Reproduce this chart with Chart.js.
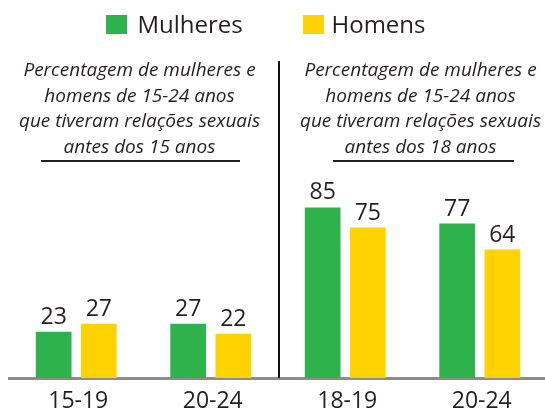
<!DOCTYPE html>
<html>
<head>
<meta charset="utf-8">
<script src="https://cdn.jsdelivr.net/npm/chart.js@4"></script>
<style>
  html, body { margin: 0; padding: 0; background: #fff; overflow: hidden; }
  #wrap { position: relative; width: 548px; height: 409px; }
</style>
</head>
<body>
<div id="wrap"><canvas id="c"></canvas></div>
<script>
const categories = ['15-19', '20-24', '18-19', '20-24'];
const seriesNames = ['Mulheres', 'Homens'];
const mulheres = [23, 27, 85, 77];
const homens = [27, 22, 75, 64];
const seriesColors = ['#2db24c', '#ffd200'];
const subtitleLeft = ['Percentagem de mulheres e', 'homens de 15-24 anos', 'que tiveram relações sexuais', 'antes dos 15 anos'];
const subtitleRight = ['Percentagem de mulheres e', 'homens de 15-24 anos', 'que tiveram relações sexuais', 'antes dos 18 anos'];

const TEXT = '#231f20';

const decor = {
  id: 'decor',
  afterDatasetsDraw(chart) {
    const ctx = chart.ctx;
    const area = chart.chartArea;
    const x = chart.scales.x;
    ctx.save();
    // value labels
    ctx.font = '23px "Open Sans"';
    ctx.fillStyle = TEXT;
    ctx.textAlign = 'center';
    ctx.textBaseline = 'alphabetic';
    chart.data.datasets.forEach((ds, di) => {
      chart.getDatasetMeta(di).data.forEach((bar, i) => {
        ctx.fillText(String(ds.data[i]), bar.x, bar.y - 8);
      });
    });
    // divider between the two panels
    const xd = (x.getPixelForValue(1) + x.getPixelForValue(2)) / 2 + 1;
    ctx.strokeStyle = '#111';
    ctx.lineWidth = 2;
    ctx.beginPath();
    ctx.moveTo(xd, area.top);
    ctx.lineTo(xd, area.bottom);
    ctx.stroke();
    // legend
    ctx.font = '24px "Open Sans"';
    ctx.textAlign = 'left';
    const legendPos = [[106, 137.5], [303, 331.5]];
    chart.data.datasets.forEach((ds, di) => {
      const [bx, tx] = legendPos[di];
      ctx.fillStyle = ds.backgroundColor;
      ctx.fillRect(bx, 15, 21, 19);
      ctx.fillStyle = TEXT;
      ctx.fillText(ds.label, tx, 33);
    });
    // subtitles
    ctx.font = 'italic 19px "Open Sans"';
    ctx.textAlign = 'center';
    const baselines = [76, 101.5, 127, 152.5];
    [[subtitleLeft, 139.5], [subtitleRight, 420.5]].forEach(([lines, cx]) => {
      lines.forEach((t, i) => ctx.fillText(t, cx, baselines[i]));
    });
    // underlines
    ctx.strokeStyle = TEXT;
    ctx.lineWidth = 2;
    ctx.beginPath();
    ctx.moveTo(41, 161); ctx.lineTo(240, 161);
    ctx.moveTo(333, 161); ctx.lineTo(514, 161);
    ctx.stroke();
    ctx.restore();
  }
};

new Chart(document.getElementById('c'), {
  type: 'bar',
  data: {
    labels: categories,
    datasets: [
      { label: seriesNames[0], data: mulheres, backgroundColor: seriesColors[0] },
      { label: seriesNames[1], data: homens, backgroundColor: seriesColors[1] }
    ]
  },
  options: {
    responsive: true,
    maintainAspectRatio: false,
    animation: false,
    layout: { padding: { left: 9, right: 1, top: 61, bottom: 0 } },
    categoryPercentage: 0.672,
    barPercentage: 0.79,
    plugins: { legend: { display: false }, tooltip: { enabled: false } },
    scales: {
      x: {
        grid: { display: false, drawTicks: false },
        border: { display: true, color: '#8c8c8c', width: 3 },
        ticks: { color: TEXT, font: { family: 'Open Sans', size: 23 }, padding: 10, labelOffset: 2 },
        afterFit(s) { s.height = 31; }
      },
      y: { display: false, min: 0, max: 158 }
    }
  },
  plugins: [decor]
});
</script>
</body>
</html>
